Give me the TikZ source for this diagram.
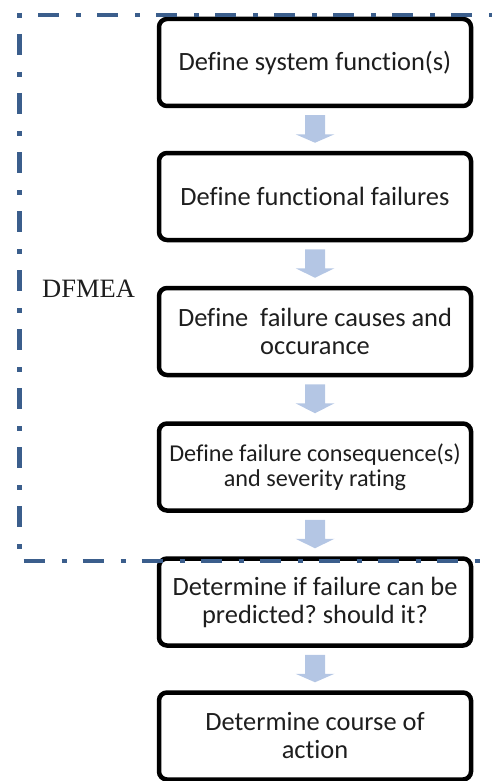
\documentclass[tikz,border=0pt]{standalone}
\usepackage{fontspec}
\setmainfont{Liberation Serif}
\newfontfamily\calibrifont[Ligatures=NoCommon]{Carlito}
\usetikzlibrary{calc}
\definecolor{frameblue}{RGB}{59,94,140}
\definecolor{arrowblue}{RGB}{180,198,228}
\definecolor{boxtext}{RGB}{30,30,30}
\frenchspacing

\begin{document}
\begin{tikzpicture}[x=1pt, y=-1pt,
    stepbox/.style={draw=black, line width=4.5pt, rounded corners=8pt, fill=white,
        minimum width=312pt, minimum height=87pt, inner sep=0pt, align=center,
        text=boxtext, font=\calibrifont\fontsize{26.4}{28}\selectfont},
    smallbox/.style={stepbox, font=\calibrifont\fontsize{24.2}{25}\selectfont},
    flowarrow/.style={fill=arrowblue},
    dfmeaframe/.style={draw=frameblue, line width=4.5pt,
        dash pattern=on 5pt off 16pt on 21pt off 17pt}
]
    \useasboundingbox (0,0) rectangle (492,781);

    % Flow Boxes
    \node[stepbox] (sysfunc)  at (315, 62.5) {Define system function(s)};
    \node[stepbox] (funcfail) at (315, 196.5) {Define functional failures};
    \node[stepbox] (causes)   at (315, 331.5) {Define~ failure causes and\\occurance};
    \node[smallbox] (conseq)  at (315, 467) {Define failure consequence(s)\\and severity rating};
    \node[stepbox] (predict)  at (315, 602) {Determine if failure can be\\predicted? should it?};
    \node[stepbox] (action)   at (315, 736) {Determine course of\\action};

    % Block Arrows
    \foreach \a/\b in {sysfunc/funcfail, funcfail/causes, causes/conseq, conseq/predict, predict/action} {
        \fill[flowarrow] ($(\a.south)+(-10,7)$) -- ++(20,0) -- ++(0,19) -- ++(9.5,0)
            -- ($(\b.north)+(0,-8)$) -- ($(\a.south)+(-19.5,26)$) -- ++(9.5,0) -- cycle;
    }

    % DFMEA Frame
    \node[anchor=base west, inner sep=0pt, font=\fontsize{26.5}{28}\selectfont, text=boxtext]
        (dfmealabel) at (42, 297) {DFMEA};
    \draw[dfmeaframe] (17, 15) -- (500, 15);
    \draw[dfmeaframe] (19.5, 13) -- (19.5, 561) -- (500, 561);
\end{tikzpicture}
\end{document}
